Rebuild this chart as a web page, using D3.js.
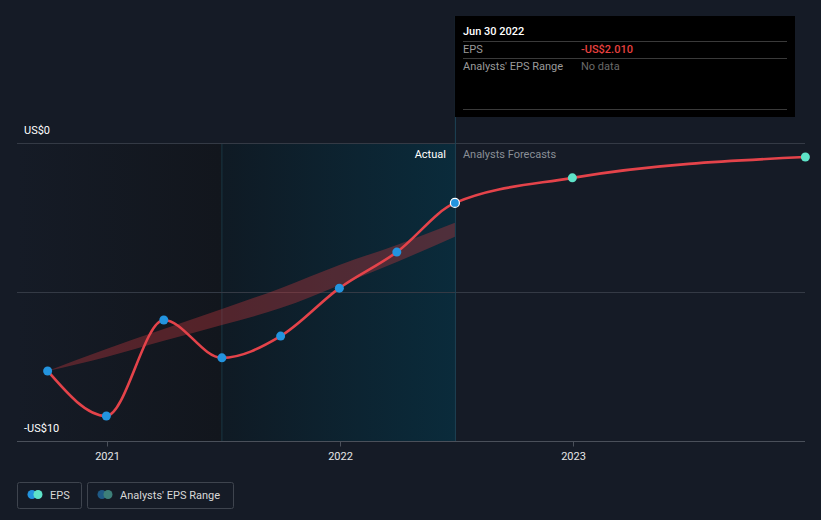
<!DOCTYPE html>
<html><head><meta charset="utf-8">
<script src="https://cdn.jsdelivr.net/npm/d3@7"></script>
<style>
html,body{margin:0;padding:0;background:#151b26;}
svg{display:block;font-family:Roboto,"Noto Sans",sans-serif;}
</style></head>
<body><svg id="c" width="821" height="520"></svg>
<script>
// ---- data ----
const actualDates = ["2020-09-30","2020-12-31","2021-03-31","2021-06-30","2021-09-30","2021-12-31","2022-03-31","2022-06-30"];
const actualEPS = [-7.65,-9.16,-5.94,-7.21,-6.48,-4.87,-3.66,-2.01];
const forecastDates = ["2022-12-31","2023-12-31"];
const forecastEPS = [-1.17,-0.47];
const rangeDates = ["2020-09-30","2020-12-31","2021-03-31","2021-06-30","2021-09-30","2021-12-31","2022-03-31","2022-06-30"];
const rangeLow = [-7.65,-7.18,-6.64,-6.11,-5.54,-4.77,-3.99,-3.15];
const rangeHigh = [-7.65,-6.91,-6.24,-5.57,-4.87,-4.09,-3.42,-2.68];
const yTicks = [0,-5,-10];
const yTickLabels = ["US$0","","-US$10"];
const xTickYears = ["2021","2022","2023"];
const tooltipDate = "Jun 30 2022";
const tooltipEPS = "-US$2.010";
const tooltipRange = "No data";

const P = d3.timeParse("%Y-%m-%d");
const svg = d3.select("#c");
const x = d3.scaleTime().domain([P("2021-01-01"),P("2023-01-01")]).range([107,573]);
const y = d3.scaleLinear().domain([0,-10]).range([143,441]);
const X0 = 17, X1 = 805;
const pastEnd = x(P("2021-06-30")), nowX = x(P("2022-06-30"));

const defs = svg.append("defs");
const g1 = defs.append("linearGradient").attr("id","gPast");
g1.append("stop").attr("offset","0").attr("stop-color","#151b26");
g1.append("stop").attr("offset","1").attr("stop-color","#12161d");
const g2 = defs.append("linearGradient").attr("id","gAct");
g2.append("stop").attr("offset","0").attr("stop-color","#0f1a24");
g2.append("stop").attr("offset","1").attr("stop-color","#0a2b3b");

svg.append("rect").attr("x",X0).attr("y",y(0)).attr("width",pastEnd-X0).attr("height",y(-10)-y(0)).attr("fill","url(#gPast)");
svg.append("rect").attr("x",pastEnd).attr("y",y(0)).attr("width",nowX-pastEnd).attr("height",y(-10)-y(0)).attr("fill","url(#gAct)");
svg.append("line").attr("x1",pastEnd).attr("x2",pastEnd).attr("y1",y(0)).attr("y2",y(-10)).attr("stroke","#173743").attr("stroke-width",1);

// grid
svg.selectAll(".grid").data(yTicks).join("line")
  .attr("x1",X0).attr("x2",X1).attr("y1",d=>y(d)+0.5).attr("y2",d=>y(d)+0.5)
  .attr("stroke",(d,i)=>i===yTicks.length-1?"#4a505a":"#343a45").attr("stroke-width",1);
svg.selectAll(".ylab").data(yTicks).join("text")
  .attr("x",24).attr("y",d=>y(d)-9).attr("fill","#ffffff").attr("font-size",11)
  .text((d,i)=>yTickLabels[i]);

// x axis
const xa = svg.append("g").attr("transform",`translate(0,${y(-10)+0.5})`)
  .call(d3.axisBottom(x).tickValues(xTickYears.map(s=>P(s+"-01-01"))).tickFormat(d3.timeFormat("%Y")).tickSize(5).tickPadding(6));
xa.select(".domain").remove();
xa.selectAll("line").attr("stroke","#4a505a");
xa.selectAll("text").attr("fill","#e6e6e6").attr("font-size",11).attr("font-family","Roboto,sans-serif");

// vertical now line
svg.append("line").attr("x1",nowX+0.5).attr("x2",nowX+0.5).attr("y1",16).attr("y2",y(-10)).attr("stroke","#1d4455").attr("stroke-width",1);

// band
const rangeData = rangeDates.map((d,i)=>({d:P(d),lo:rangeLow[i],hi:rangeHigh[i]}));
svg.append("path").datum(rangeData)
  .attr("d",d3.area().x(d=>x(d.d)).y0(d=>y(d.lo)).y1(d=>y(d.hi)).curve(d3.curveMonotoneX))
  .attr("fill","#c0383c").attr("fill-opacity",0.38);

// line (actual + forecast as one smooth series)
const actData = actualDates.map((d,i)=>({d:P(d),v:actualEPS[i]}));
const fcData = forecastDates.map((d,i)=>({d:P(d),v:forecastEPS[i]}));
const allData = actData.concat(fcData);
const line = d3.line().x(d=>x(d.d)).y(d=>y(d.v)).curve(d3.curveMonotoneX);
svg.append("path").datum(allData).attr("d",line).attr("fill","none").attr("stroke","#e4434a").attr("stroke-width",2.6);

// dots
svg.selectAll(".ad").data(actData.slice(0,-1)).join("circle")
  .attr("cx",d=>x(d.d)).attr("cy",d=>y(d.v)).attr("r",4.5).attr("fill","#2394df");
svg.selectAll(".fd").data(fcData).join("circle")
  .attr("cx",d=>x(d.d)).attr("cy",d=>y(d.v)).attr("r",4.5).attr("fill","#5ee3c8");
const last = actData[actData.length-1];
svg.append("circle").attr("cx",x(last.d)).attr("cy",y(last.v)).attr("r",4.5).attr("fill","#2394df").attr("stroke","#ffffff").attr("stroke-width",1.2);

// region labels
svg.append("text").attr("x",nowX-9).attr("y",158).attr("text-anchor","end").attr("fill","#ffffff").attr("font-size",11).text("Actual");
svg.append("text").attr("x",nowX+8).attr("y",158).attr("fill","#8a8f96").attr("font-size",11).text("Analysts Forecasts");

// tooltip
const tt = svg.append("g");
tt.append("rect").attr("x",455).attr("y",16).attr("width",340).attr("height",101).attr("fill","#000000");
tt.append("text").attr("x",463).attr("y",35).attr("fill","#ffffff").attr("font-size",11).attr("font-weight",500).text(tooltipDate);
[41,58,109].forEach(yy=>tt.append("line").attr("x1",463).attr("x2",787).attr("y1",yy+0.5).attr("y2",yy+0.5).attr("stroke","#3a3a3a"));
tt.append("text").attr("x",463).attr("y",53).attr("fill","#9a9a9a").attr("font-size",11).text("EPS");
tt.append("text").attr("x",581).attr("y",53).attr("fill","#e8403f").attr("font-size",11).attr("font-weight",500).text(tooltipEPS);
tt.append("text").attr("x",463).attr("y",70).attr("fill","#9a9a9a").attr("font-size",11).text("Analysts' EPS Range");
tt.append("text").attr("x",581).attr("y",70).attr("fill","#6a6a6a").attr("font-size",11).text(tooltipRange);

// legend
const lg = svg.append("g");
lg.append("rect").attr("x",17.5).attr("y",482.5).attr("width",64).attr("height",26).attr("rx",2).attr("fill","none").attr("stroke","#3e444e");
lg.append("circle").attr("cx",32).attr("cy",494.5).attr("r",4.5).attr("fill","#2394df");
lg.append("circle").attr("cx",38).attr("cy",494.5).attr("r",4.5).attr("fill","#5ee3c8");
lg.append("text").attr("x",50).attr("y",499).attr("fill","#d8d8d8").attr("font-size",11).text("EPS");
lg.append("rect").attr("x",87.5).attr("y",482.5).attr("width",146).attr("height",26).attr("rx",2).attr("fill","none").attr("stroke","#3e444e");
lg.append("circle").attr("cx",102).attr("cy",494.5).attr("r",4.5).attr("fill","#1f5a86");
lg.append("circle").attr("cx",108).attr("cy",494.5).attr("r",4.5).attr("fill","#3d7f79");
lg.append("text").attr("x",120).attr("y",499).attr("fill","#d8d8d8").attr("font-size",11).text("Analysts' EPS Range");
</script></body></html>
